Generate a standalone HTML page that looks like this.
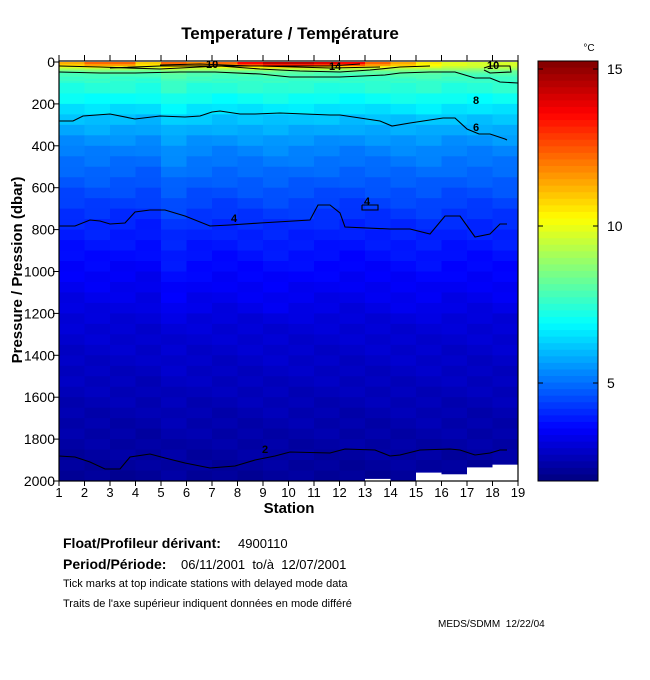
<!DOCTYPE html>
<html><head><meta charset="utf-8"><style>
body{margin:0;background:#fff;width:650px;height:680px;overflow:hidden;font-family:"Liberation Sans",sans-serif}
svg{position:absolute;left:0;top:0}
</style></head><body>
<svg id="s" width="650" height="680" xmlns="http://www.w3.org/2000/svg" font-family="Liberation Sans, sans-serif">
<g id="heat"></g>
<g id="cb"></g>
<g id="lines" fill="none" stroke="#000" stroke-width="1.1"></g>
<g id="axes"></g>
<text x="290" y="39" font-size="17" font-weight="bold" text-anchor="middle">Temperature / Température</text>
<text x="22" y="270" font-size="15" font-weight="bold" text-anchor="middle" transform="rotate(-90 22 270)">Pressure / Pression (dbar)</text>
<text x="289" y="513" font-size="15" font-weight="bold" text-anchor="middle">Station</text>
<text x="589" y="51" font-size="10" text-anchor="middle">°C</text>
<text x="63" y="548" font-size="14" font-weight="bold">Float/Profileur dérivant:</text>
<text x="238" y="548" font-size="13">4900110</text>
<text x="63" y="569" font-size="14" font-weight="bold">Period/Période:</text>
<text x="181" y="569" font-size="13" xml:space="preserve">06/11/2001  to/à  12/07/2001</text>
<text x="63" y="587" font-size="11">Tick marks at top indicate stations with delayed mode data</text>
<text x="63" y="607" font-size="11">Traits de l'axe supérieur indiquent données en mode différé</text>
<text x="438" y="627" font-size="10" xml:space="preserve">MEDS/SDMM  12/22/04</text>
<g font-size="11" font-weight="bold">
<text x="206" y="68">10</text><text x="329" y="70">14</text><text x="487" y="69">10</text><text x="473" y="104">8</text><text x="473" y="131">6</text><text x="231" y="222">4</text><text x="364" y="205">4</text><text x="262" y="453">2</text>
</g>
</svg>
<script>
const NS="http://www.w3.org/2000/svg";
function el(p,t,a){const e=document.createElementNS(NS,t);for(const k in a)e.setAttribute(k,a[k]);p.appendChild(e);return e;}
function jet(v){v=Math.max(0,Math.min(1,v));const c=x=>Math.round(255*Math.max(0,Math.min(1,x)));
return `rgb(${c(1.5-Math.abs(4*v-3))},${c(1.5-Math.abs(4*v-2))},${c(1.5-Math.abs(4*v-1))})`;}
const TMIN=1.9,TMAX=15.25;
const X0=59,DX=25.5,Y0=62,SY=0.2095;
const prof=[[0,10.5],[20,9.6],[48,8],[80,7.6],[150,7.2],[280,6],[400,5.3],[600,4.6],[780,4],[1000,3.5],[1265,3.0],[1660,2.55],[1900,2.3],[2000,2.2]];
function T0(p){for(let i=1;i<prof.length;i++){if(p<=prof[i][0]){const a=prof[i-1],b=prof[i];return a[1]+(b[1]-a[1])*(p-a[0])/(b[0]-a[0]);}}return 2.2;}
const surf=[11.5,12.5,12.5,11,12.5,12,12.5,14,15,15,14.5,14,12.5,11.5,10.5,9.8,9.6,9.6];
const off=[0,0.05,0,-0.05,0.25,0.1,0.05,0.1,0.15,0.1,0.05,0,0.05,0.1,0.15,0.05,0.05,0.1];
const white={12:[1990,2000],14:[1960,2000],15:[1968,2000],16:[1935,2000],17:[1922,2000]};
const heat=document.getElementById('heat');
const levels=[];for(let p=0;p<100;p+=10)levels.push(p);for(let p=100;p<2000;p+=50)levels.push(p);levels.push(2000);
for(let c=0;c<18;c++){
 const x=X0+c*DX;
 for(let i=0;i<levels.length-1;i++){
  const p1=levels[i],p2=levels[i+1],pm=(p1+p2)/2;
  let t=T0(pm)+off[c]*(pm<1200?1:0.3)+((c*7+i*3)%5-2)*0.05;
  if(pm<40){const f=1-pm/40;t=t+(surf[c]-t)*f*(pm<20?1:0.6);}
  let y1=Y0+p1*SY,y2=Y0+p2*SY;
  el(heat,'rect',{x:x,y:y1,width:DX+0.5,height:y2-y1+0.5,fill:jet((t-TMIN)/(TMAX-TMIN))});
 }
 if(white[c]){const w=white[c];el(heat,'rect',{x:x,y:Y0+w[0]*SY,width:DX+0.5,height:(w[1]-w[0])*SY+1,fill:'#fff'});}
}
const cb=document.getElementById('cb');
const n=64;for(let i=0;i<n;i++){const y1=61+i*420/n;el(cb,'rect',{x:538,y:y1,width:60,height:420/n+0.5,fill:jet(1-(i+0.5)/n)});}
el(cb,'rect',{x:538,y:61,width:60,height:420,fill:'none',stroke:'#000','stroke-width':1});
[[15,69],[10,226],[5,383]].forEach(([v,y])=>{el(cb,'line',{x1:538,x2:543,y1:y,y2:y,stroke:'#000'});el(cb,'line',{x1:593,x2:598,y1:y,y2:y,stroke:'#000'});
 const t=el(cb,'text',{x:607,y:y+5,'font-size':14});t.textContent=v;});
const L=document.getElementById('lines');
const pl=a=>el(L,'polyline',{points:a.map(q=>q.join(',')).join(' ')});
pl([[59,72],[100,73],[135,73],[180,72],[215,72],[260,74],[290,77],[340,77],[385,75],[400,73],[430,72],[455,72],[465,75],[475,78],[490,78],[500,82],[518,83]]);
pl([[59,121],[73,121],[83,116],[110,114],[135,119],[160,116],[185,117],[200,116],[212,112],[220,111],[240,114],[255,114],[280,113],[330,115],[340,115],[360,118],[380,121],[392,126],[410,123],[443,118],[455,118],[467,129],[479,134],[490,134],[505,139],[507,140]]);
pl([[59,226],[75,226],[90,220],[100,221],[110,224],[125,223],[135,212],[150,210],[165,210],[185,216],[210,226],[230,225],[260,223],[310,220],[318,205],[330,205],[340,213],[345,227],[390,229],[410,229],[430,234],[445,216],[460,216],[475,237],[490,234],[500,224],[507,224]]);
pl([[59,456],[75,457],[90,462],[105,469],[120,469],[130,457],[150,454],[165,458],[185,463],[210,468],[235,466],[255,460],[275,456],[290,452],[330,453],[345,449],[375,450],[390,456],[400,455],[420,450],[450,449],[460,450],[475,455],[490,453],[500,450],[507,450]]);
pl([[59,66],[100,67],[160,69],[200,67],[220,66],[260,69],[300,71],[340,72],[370,70],[400,67],[430,66]]);
pl([[110,68],[160,66],[260,66],[330,68],[380,67]]);
pl([[160,65],[200,64],[250,66],[330,66],[360,64]]);
pl([[484,68],[490,66],[510,66],[511,72],[490,73],[484,70]]);
pl([[362,205],[378,205],[378,210],[362,210],[362,205]]);
const A=document.getElementById('axes');
const X19=X0+18*DX;
el(A,'rect',{x:X0,y:61,width:X19-X0,height:420,fill:'none',stroke:'#000','stroke-width':1.2});
for(let s=1;s<=19;s++){const x=X0+(s-1)*DX;
 el(A,'line',{x1:x,x2:x,y1:55,y2:61,stroke:'#000'});
 el(A,'line',{x1:x,x2:x,y1:481,y2:486,stroke:'#000'});
 const t=el(A,'text',{x:x,y:497,'font-size':13,'text-anchor':'middle'});t.textContent=s;}
[212,337].forEach(x=>el(A,'rect',{x:x-1,y:40,width:3,height:4,fill:'#000'}));
for(let p=0;p<=2000;p+=200){const y=Y0+p*SY;
 el(A,'line',{x1:53,x2:59,y1:y,y2:y,stroke:'#000'});
 const t=el(A,'text',{x:55,y:y+5,'font-size':14,'text-anchor':'end'});t.textContent=p;}
</script>
</body></html>
